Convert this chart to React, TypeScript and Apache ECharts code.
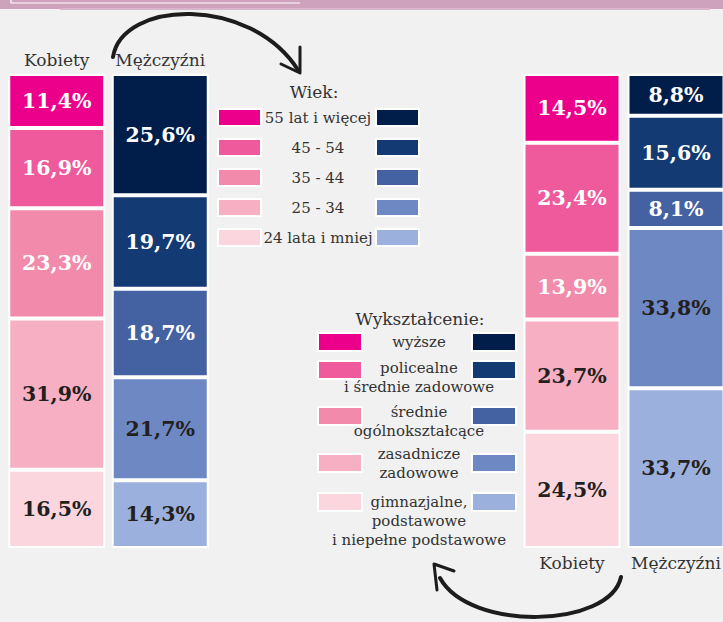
import React, { useEffect, useRef } from "react";
import * as echarts from "echarts";

const genders = ["Kobiety", "Mężczyźni"];

// stacked bottom -> top
const ageLevels = ["24 lata i mniej", "25 - 34", "35 - 44", "45 - 54", "55 lat i więcej"];
const ageWomen = [16.5, 31.9, 23.3, 16.9, 11.4];
const ageMen = [14.3, 21.7, 18.7, 19.7, 25.6];

const eduLevels = [
  "gimnazjalne,\npodstawowe\ni niepełne podstawowe",
  "zasadnicze\nzadowowe",
  "średnie\nogólnokształcące",
  "policealne\ni średnie zadowowe",
  "wyższe",
];
const eduWomen = [24.5, 23.7, 13.9, 23.4, 14.5];
const eduMen = [33.7, 33.8, 8.1, 15.6, 8.8];

const pinkColors = ["#fbd6de", "#f7afc3", "#f28bab", "#ee5a9b", "#ec008b"];
const blueColors = ["#9bb0dc", "#6e88c4", "#4461a2", "#133a72", "#011e4a"];
const labelColors = ["#231f20", "#231f20", "#ffffff", "#ffffff", "#ffffff"];

const SERIF = "'DejaVu Serif', serif";
const TEXT = "#333333";

function fmt(v: number) {
  return v.toFixed(1).replace(".", ",") + "%";
}

function buildSeries(women: number[], men: number[], gridIdx: number, stack: string) {
  return women.map((w, i) => ({
    type: "bar",
    name: stack + i,
    stack,
    xAxisIndex: gridIdx,
    yAxisIndex: gridIdx,
    barWidth: 97,
    data: [
      { value: w, itemStyle: { color: pinkColors[i] } },
      { value: men[i], itemStyle: { color: blueColors[i] } },
    ],
    itemStyle: { borderColor: "#ffffff", borderWidth: 2 },
    label: {
      show: true,
      position: "inside",
      formatter: (p: any) => fmt(p.value),
      color: labelColors[i],
      fontFamily: SERIF,
      fontWeight: "bold",
      fontSize: 20.5,
    },
  }));
}

export default function App() {
  const ref = useRef<HTMLDivElement>(null);
  useEffect(() => {
    document.body.style.margin = "0";
    document.body.style.background = "#f1f1f1";
    const chart = echarts.init(ref.current!, undefined, { renderer: "svg" });

    const graphics: any[] = [];
    // top band
    graphics.push({ type: "rect", shape: { x: 0, y: 0, width: 723, height: 9 }, style: { fill: "#cea2bd" } });
    graphics.push({ type: "rect", shape: { x: 60, y: 8, width: 650, height: 2 }, style: { fill: "#d9b4ca" } });
    graphics.push({ type: "polyline", shape: { points: [[11, 0], [11, 3], [300, 3]] }, style: { stroke: "#ffffff", lineWidth: 1.2, fill: null } });

    // arrows
    const arrowStyle = { stroke: "#1c1c1c", lineWidth: 4, fill: null, lineCap: "round", lineJoin: "round" };
    graphics.push({ type: "bezierCurve", shape: { x1: 113, y1: 57, cpx1: 122, cpy1: 0, cpx2: 250, cpy2: -5, x2: 298, y2: 70 }, style: arrowStyle });
    graphics.push({ type: "polyline", shape: { points: [[300, 47], [300, 73], [281, 64]] }, style: { ...arrowStyle, lineWidth: 3 } });
    graphics.push({ type: "bezierCurve", shape: { x1: 621, y1: 577, cpx1: 610, cpy1: 628, cpx2: 470, cpy2: 632, x2: 440, y2: 578 }, style: arrowStyle });
    graphics.push({ type: "polyline", shape: { points: [[437, 590], [434, 564], [454, 571]] }, style: { ...arrowStyle, lineWidth: 3 } });

    // Wiek legend
    graphics.push({ type: "text", x: 314, y: 92, style: { text: "Wiek:", font: `17px ${SERIF}`, fill: TEXT, textAlign: "center", textVerticalAlign: "middle" } });
    const ageRowTop = [229, 199, 169, 139, 109];
    ageLevels.forEach((lv, i) => {
      const y = ageRowTop[i];
      graphics.push({ type: "rect", shape: { x: 218, y, width: 43, height: 17 }, style: { fill: pinkColors[i], stroke: "#ffffff", lineWidth: 2 } });
      graphics.push({ type: "rect", shape: { x: 376, y, width: 43, height: 17 }, style: { fill: blueColors[i], stroke: "#ffffff", lineWidth: 2 } });
      graphics.push({ type: "text", x: 318, y: y + 9, style: { text: lv, font: `15px ${SERIF}`, fill: TEXT, textAlign: "center", textVerticalAlign: "middle" } });
    });

    // Wykształcenie legend
    graphics.push({ type: "text", x: 420, y: 319, style: { text: "Wykształcenie:", font: `17px ${SERIF}`, fill: TEXT, textAlign: "center", textVerticalAlign: "middle" } });
    const eduRowTop = [493, 454, 407, 361, 333];
    const eduTextFirst = [502, 454, 412, 368, 342];
    eduLevels.forEach((lv, i) => {
      const y = eduRowTop[i];
      graphics.push({ type: "rect", shape: { x: 318, y, width: 44, height: 18 }, style: { fill: pinkColors[i], stroke: "#ffffff", lineWidth: 2 } });
      graphics.push({ type: "rect", shape: { x: 472, y, width: 44, height: 18 }, style: { fill: blueColors[i], stroke: "#ffffff", lineWidth: 2 } });
      graphics.push({ type: "text", x: 419, y: eduTextFirst[i] - 9.5, style: { text: lv, font: `15px ${SERIF}`, lineHeight: 19, fill: TEXT, textAlign: "center", textVerticalAlign: "top" } });
    });

    const axisCommon = {
      type: "category",
      data: genders,
      axisLine: { show: false },
      axisTick: { show: false },
      axisLabel: { color: TEXT, fontFamily: SERIF, fontSize: 17, interval: 0, margin: 6 },
    };
    const yCommon = { type: "value", min: 0, max: 100, show: false };

    chart.setOption({
      animation: false,
      backgroundColor: "#f1f1f1",
      grid: [
        { left: 5, top: 74, width: 207, height: 474, outerBoundsMode: "none" },
        { left: 520, top: 74, width: 208, height: 474, outerBoundsMode: "none" },
      ],
      xAxis: [
        { ...axisCommon, gridIndex: 0, position: "top" },
        { ...axisCommon, gridIndex: 1, position: "bottom" },
      ],
      yAxis: [
        { ...yCommon, gridIndex: 0 },
        { ...yCommon, gridIndex: 1 },
      ],
      series: [...buildSeries(ageWomen, ageMen, 0, "age"), ...buildSeries(eduWomen, eduMen, 1, "edu")],
      graphic: graphics,
    });
    return () => chart.dispose();
  }, []);
  return <div ref={ref} style={{ width: 723, height: 622 }} />;
}
